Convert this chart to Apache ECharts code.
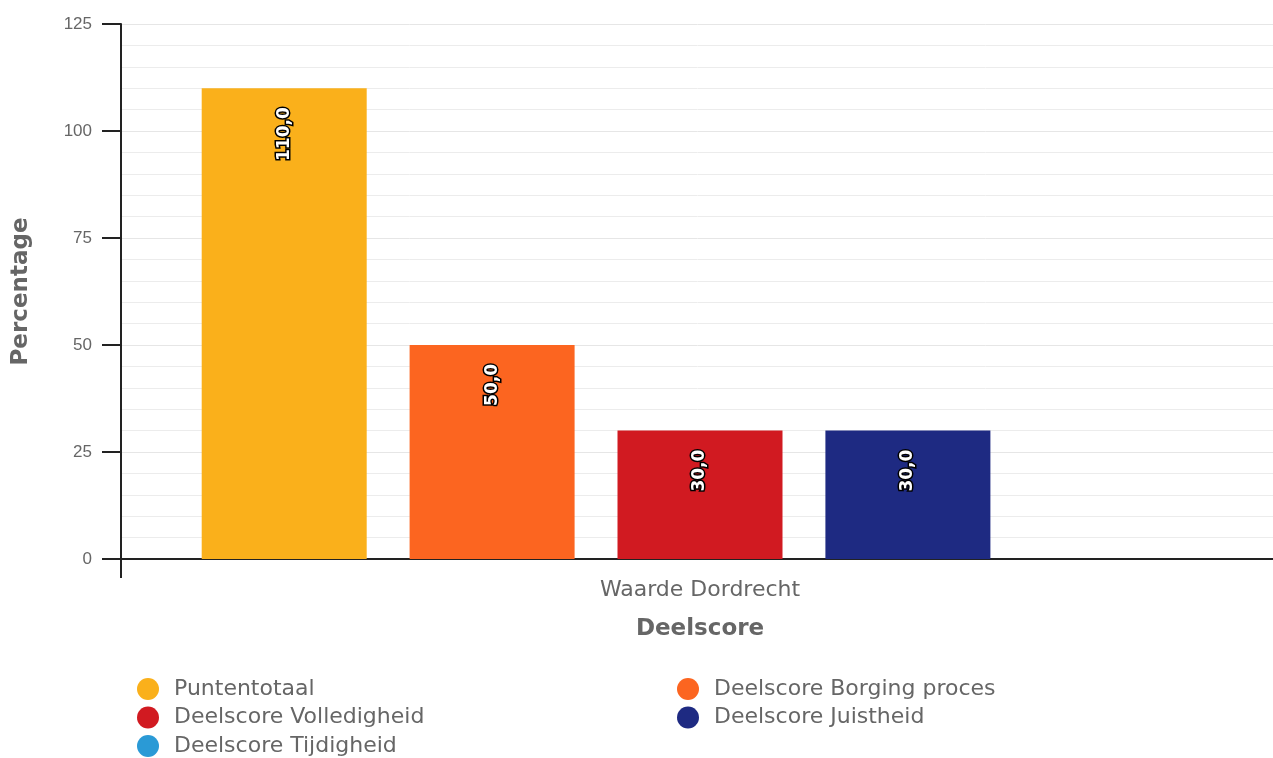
<!DOCTYPE html>
<html>
<head>
<meta charset="utf-8">
<script src="https://cdn.jsdelivr.net/npm/echarts@6/dist/echarts.min.js"></script>
<style>
html,body{margin:0;padding:0;background:#fff;}
#chart{width:1273px;height:758px;}
</style>
</head>
<body>
<div id="chart"></div>
<script>
const categories = ['Waarde Dordrecht'];
const seriesNames = ['Puntentotaal', 'Deelscore Borging proces', 'Deelscore Volledigheid', 'Deelscore Juistheid', 'Deelscore Tijdigheid'];
const seriesValues = [[110], [50], [30], [30], [null]];
const seriesColors = ['#FAB01B', '#FC6520', '#D11A21', '#1E2A82', '#2A9AD6'];
const yTicks = [0, 25, 50, 75, 100, 125];

const font = 'DejaVu Sans, Verdana, sans-serif';
const tickFont = 'Liberation Sans, Arial, sans-serif';
const chart = echarts.init(document.getElementById('chart'));

const series = seriesNames.map((name, i) => ({
  name: name,
  type: 'bar',
  data: seriesValues[i],
  barWidth: 165,
  barGap: '26%',
  itemStyle: { color: seriesColors[i] },
  label: {
    show: true,
    position: 'insideTop',
    rotate: 90,
    align: 'right',
    verticalAlign: 'middle',
    distance: 19,
    color: '#fff',
    fontFamily: font,
    fontSize: 17,
    fontWeight: 'bold',
    textBorderColor: '#000',
    textBorderWidth: 3,
    formatter: p => (p.value == null ? '' : Number(p.value).toFixed(1).replace('.', ','))
  }
}));

const legendCommon = {
  orient: 'vertical', top: 678, padding: 0,
  icon: 'circle', itemWidth: 22, itemHeight: 22, itemGap: 6.5,
  textStyle: { fontFamily: font, fontSize: 22, color: '#666', padding: [0, 0, 0, 10] },
  selectedMode: false
};

chart.setOption({
  animation: false,
  grid: { left: 121, right: -6, top: 24, bottom: 199, outerBoundsMode: 'none', containLabel: false },
  legend: [
    Object.assign({ data: [seriesNames[0], seriesNames[2], seriesNames[4]], left: 137 }, legendCommon),
    Object.assign({ data: [seriesNames[1], seriesNames[3]], left: 677 }, legendCommon)
  ],
  xAxis: {
    type: 'category',
    data: categories,
    name: 'Deelscore',
    nameLocation: 'middle',
    nameGap: 59,
    nameTextStyle: { fontFamily: font, fontSize: 23, fontWeight: 'bold', color: '#666' },
    axisLine: { lineStyle: { color: '#222', width: 2 } },
    axisTick: { show: true, length: 19, alignWithLabel: false, lineStyle: { color: '#222', width: 2 } },
    axisLabel: { fontFamily: font, fontSize: 22, color: '#666', margin: 20 }
  },
  yAxis: {
    type: 'value',
    min: yTicks[0],
    max: yTicks[yTicks.length - 1],
    interval: 25,
    name: 'Percentage',
    nameLocation: 'middle',
    nameGap: 88,
    nameTextStyle: { fontFamily: font, fontSize: 23, fontWeight: 'bold', color: '#666' },
    axisLine: { show: true, lineStyle: { color: '#222', width: 2 } },
    axisTick: { show: true, length: 19, lineStyle: { color: '#222', width: 2 } },
    axisLabel: { fontFamily: tickFont, fontSize: 17, color: '#666', margin: 29 },
    splitLine: { show: true, lineStyle: { color: '#e6e6e6', width: 1 } },
    minorTick: { show: false, splitNumber: 5 },
    minorSplitLine: { show: true, lineStyle: { color: '#ececec', width: 1 } }
  },
  series: series
});
</script>
</body>
</html>
